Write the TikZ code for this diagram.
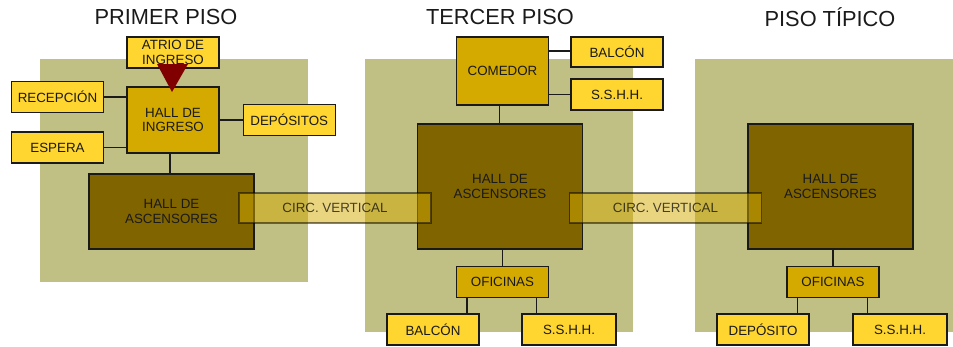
\documentclass[tikz,border=0pt]{standalone}
\usepackage{fontspec}
\setmainfont{Liberation Sans}
\usetikzlibrary{positioning}
\definecolor{panelolive}{HTML}{C0C084}
\definecolor{roomyellow}{HTML}{FFD52F}
\definecolor{hallgold}{HTML}{D4AA00}
\definecolor{liftbrown}{HTML}{806400}
\definecolor{entryred}{HTML}{800000}
\definecolor{ink}{HTML}{1A1A1A}

\begin{document}
\begin{tikzpicture}[
  x=0.25mm, y=-0.25mm,
  font=\fontsize{9.5}{10.5}\selectfont,
  room/.style={draw=ink, line width=0.9pt, fill=roomyellow, text=ink,
    align=center, minimum width=23mm, minimum height=7.75mm, inner sep=1pt},
  hall/.style={room, fill=hallgold},
  lift/.style={room, fill=liftbrown, minimum width=41.25mm, minimum height=31.25mm},
  circ/.style={draw=black, draw opacity=0.5, line width=1.4pt, fill=hallgold,
    fill opacity=0.5, text opacity=0.7, minimum width=48mm, minimum height=7.5mm},
  floortitle/.style={font=\fontsize{15.5}{17}\selectfont, text=ink},
  panel/.style={fill=panelolive},
  link/.style={draw=ink, line width=0.9pt}
]
\useasboundingbox (0,0) rectangle (953,347);

% floor panels
\fill[panel] (40,59) rectangle (308,282);
\fill[panel] (365,59) rectangle (633,332);
\fill[panel] (695,59) rectangle (953,332);

\node[floortitle] (t1) at (166,17) {PRIMER PISO};
\node[floortitle] (t3) at (500,17) {TERCER PISO};
\node[floortitle] (tt) at (830,17) {PISO TÍPICO};

% primer piso
\node[room] (atrio) at (173,52.5) {ATRIO DE\\INGRESO};
\node[hall, minimum height=16.5mm] (ingreso) at (173,120) {HALL DE\\INGRESO};
\node[room] (recep) at (57.5,97) {RECEPCIÓN};
\node[room] (espera) at (57.5,147.5) {ESPERA};
\node[room, right=5.75mm of ingreso] (depos) {DEPÓSITOS};
\node[lift, minimum height=18.75mm] (asc1) at (171.5,211.5) {HALL DE\\ASCENSORES};

\draw[link] (recep.east) -- (recep.east -| ingreso.west);
\draw[link] (espera.east) -- (espera.east -| ingreso.west);
\draw[link] (depos.west) -- (depos.west -| ingreso.east);
\draw[link] ([xshift=-0.75mm]ingreso.south) -- ([xshift=-0.75mm]ingreso.south |- asc1.north);

% tercer piso
\node[hall, minimum height=17mm] (comedor) at (502.5,71) {COMEDOR};
\node[room, minimum height=7.5mm] (balcon3) at (617,52) {BALCÓN};
\node[room] (sshh3) at (617,94.5) {S.S.H.H.};
\node[lift] (asc3) at (500,186.5) {HALL DE\\ASCENSORES};
\node[hall] (ofi3) at (502.5,282) {OFICINAS};
\node[room] (balcon3b) at (433,329.5) {BALCÓN};
\node[room, minimum width=23.5mm] (sshh3b) at (569,329.5) {S.S.H.H.};

\draw[link] (balcon3.west |- 0,51) -- (comedor.east |- 0,51);
\draw[link] (sshh3.west) -- (sshh3.west -| comedor.east);
\draw[link] ([xshift=-0.75mm]comedor.south) -- ([xshift=-0.75mm]comedor.south |- asc3.north);
\draw[link] (ofi3.north) -- (ofi3.north |- asc3.south);
\draw[link] ([xshift=2.75mm]ofi3.south west) -- ([xshift=2.75mm]ofi3.south west |- balcon3b.north);
\draw[link] ([xshift=-3.25mm]ofi3.south east) -- ([xshift=-3.25mm]ofi3.south east |- sshh3b.north);

% piso tipico
\node[lift] (asct) at (830.5,186.5) {HALL DE\\ASCENSORES};
\node[hall] (ofit) at (833,282) {OFICINAS};
\node[room] (depot) at (763,329.5) {DEPÓSITO};
\node[room, minimum width=23.5mm] (sshht) at (900,329.5) {S.S.H.H.};

\draw[link] (ofit.north) -- (ofit.north |- asct.south);
\draw[link] ([xshift=2.75mm]ofit.south west) -- ([xshift=2.75mm]ofit.south west |- depot.north);
\draw[link] ([xshift=-3mm]ofit.south east) -- ([xshift=-3mm]ofit.south east |- sshht.north);

% entrada
\fill[entryred] (157,64) -- (188,64) -- (172,92) -- cycle;

% circulacion vertical
\node[circ] (circ1) at (335,208) {CIRC. VERTICAL};
\node[circ] (circ2) at (665.5,208) {CIRC. VERTICAL};

\end{tikzpicture}
\end{document}
